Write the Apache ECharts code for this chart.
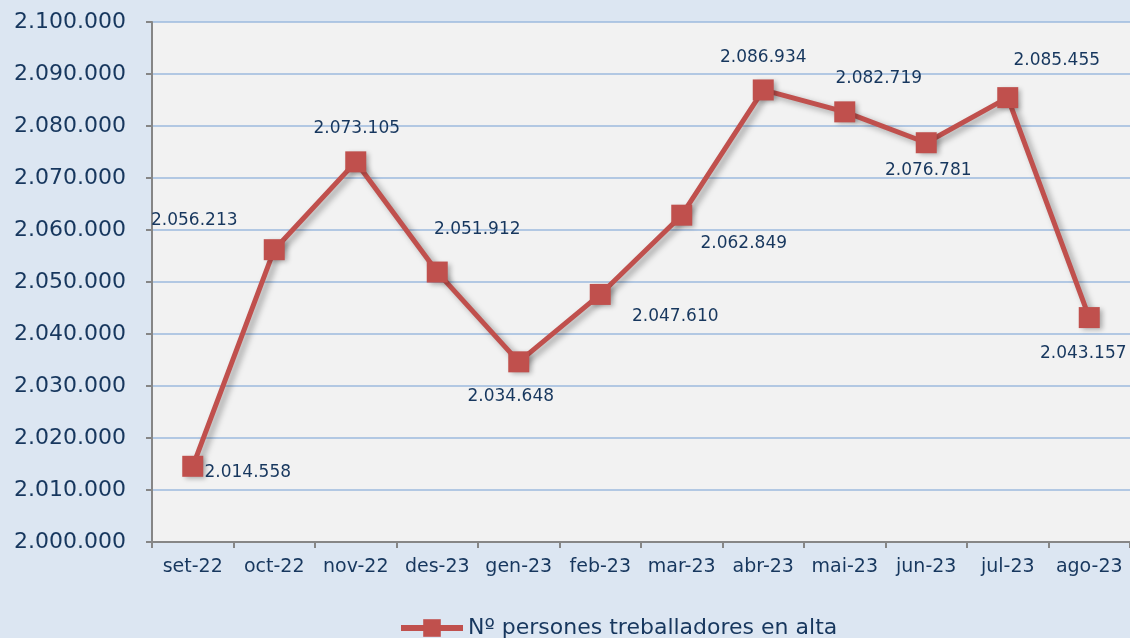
<!DOCTYPE html>
<html>
<head>
<meta charset="utf-8">
<script src="https://cdn.jsdelivr.net/npm/echarts@6/dist/echarts.min.js"></script>
<style>
  html, body { margin: 0; padding: 0; background: #dce6f2; }
  #chart { width: 1130px; height: 638px; }
</style>
</head>
<body>
<div id="chart"></div>
<script>
const months = ['set-22', 'oct-22', 'nov-22', 'des-23', 'gen-23', 'feb-23', 'mar-23', 'abr-23', 'mai-23', 'jun-23', 'jul-23', 'ago-23'];
const workers = [2014558, 2056213, 2073105, 2051912, 2034648, 2047610, 2062849, 2086934, 2082719, 2076781, 2085455, 2043157];
// label offset from each marker (px)
const labelOffsets = [[55, 6], [-80, -29], [1, -33], [40, -42], [-8, 35], [75, 22], [62, 28], [0, -32], [34, -33], [2, 28], [49, -37], [-6, 36]];

const textColor = '#17375e';
const font = 'DejaVu Sans';

// 2.014.558 style
function fmt(v) {
  return String(Math.round(v)).replace(/\B(?=(\d{3})+(?!\d))/g, '.');
}

const chart = echarts.init(document.getElementById('chart'));

const option = {
  backgroundColor: '#dce6f2',
  textStyle: { fontFamily: font },
  grid: {
    left: 152,
    top: 22,
    right: -1,
    bottom: 96,
    show: true,
    backgroundColor: '#f2f2f2',
    borderWidth: 0
  },
  legend: {
    top: 612,
    left: 393,
    itemWidth: 62,
    itemHeight: 22,
    itemGap: 10,
    lineStyle: { width: 6 },
    textStyle: { color: textColor, fontSize: 22, fontFamily: font }
  },
  xAxis: {
    type: 'category',
    data: months,
    boundaryGap: true,
    axisLine: { show: true, lineStyle: { color: '#868686', width: 2 } },
    axisTick: { show: true, length: 6, lineStyle: { color: '#868686', width: 2 } },
    axisLabel: { color: textColor, fontSize: 19, margin: 16, fontFamily: font, interval: 0 }
  },
  yAxis: {
    type: 'value',
    min: 2000000,
    max: 2100000,
    interval: 10000,
    axisLine: { show: true, lineStyle: { color: '#868686', width: 2 } },
    axisTick: { show: true, length: 6, lineStyle: { color: '#868686', width: 2 } },
    splitLine: { show: true, lineStyle: { color: '#9dbade', width: 1.5 } },
    axisLabel: { color: textColor, fontSize: 22, margin: 26, fontFamily: font, formatter: fmt }
  },
  series: [
    {
      name: 'Nº persones treballadores en alta',
      type: 'line',
      data: workers.map((v, i) => ({
        value: v,
        label: { offset: labelOffsets[i] }
      })),
      symbol: 'rect',
      symbolSize: 21,
      lineStyle: {
        color: '#c0504d',
        width: 5,
        shadowColor: 'rgba(0,0,0,0.35)',
        shadowBlur: 6,
        shadowOffsetX: 4,
        shadowOffsetY: 3
      },
      itemStyle: {
        color: '#c0504d',
        shadowColor: 'rgba(0,0,0,0.3)',
        shadowBlur: 5,
        shadowOffsetX: 3,
        shadowOffsetY: 2
      },
      label: {
        show: true,
        position: 'inside',
        color: textColor,
        fontSize: 17,
        fontFamily: font,
        formatter: (p) => fmt(p.value)
      },
      animation: false
    }
  ]
};

chart.setOption(option);
</script>
</body>
</html>
